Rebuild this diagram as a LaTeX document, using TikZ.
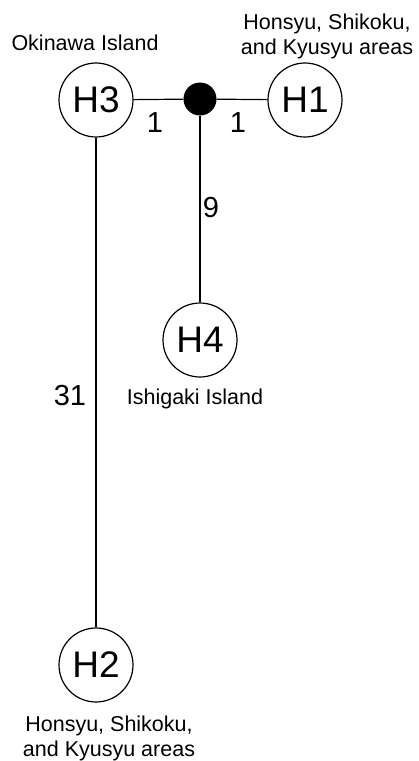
\documentclass[tikz,border=0pt]{standalone}
\usepackage{fontspec}
\setmainfont{Liberation Sans}
\begin{document}
\begin{tikzpicture}[x=1pt,y=-1pt,
  hap/.style={draw,circle,minimum size=74pt,inner sep=0pt,line width=1.2pt,font=\fontsize{37}{37}\selectfont},
  junction/.style={fill,circle,minimum size=33pt,inner sep=0pt},
  edge/.style={line width=1.2pt},
  num/.style={font=\fontsize{29}{29}\selectfont,inner sep=0pt},
  place/.style={font=\fontsize{21.5}{25}\selectfont,align=center,inner sep=0pt}]
\useasboundingbox (0,0) rectangle (419,761);
\node[hap] (H3) at (96,100) {H3};
\node[hap] (H1) at (305,100) {H1};
\node[junction] (J) at (200,99) {};
\node[hap] (H4) at (200,340) {H4};
\node[hap] (H2) at (96,665) {H2};
\draw[edge] (H3) -- (J);
\draw[edge] (J) -- (H1);
\draw[edge] (J) -- (H4);
\draw[edge] (H3) -- (H2);
\node[num] (n1) at (155,123) {1};
\node[num] (n2) at (238,123) {1};
\node[num] (n3) at (211,208) {9};
\node[num] (n4) at (70,396) {31};
\node[place] (l3) at (85,43) {Okinawa Island};
\node[place] (l1) at (327,36) {Honsyu, Shikoku,\\and Kyusyu areas};
\node[place] (l4) at (195,399) {Ishigaki Island};
\node[place] (l2) at (109,738) {Honsyu, Shikoku,\\and Kyusyu areas};
\end{tikzpicture}
\end{document}
